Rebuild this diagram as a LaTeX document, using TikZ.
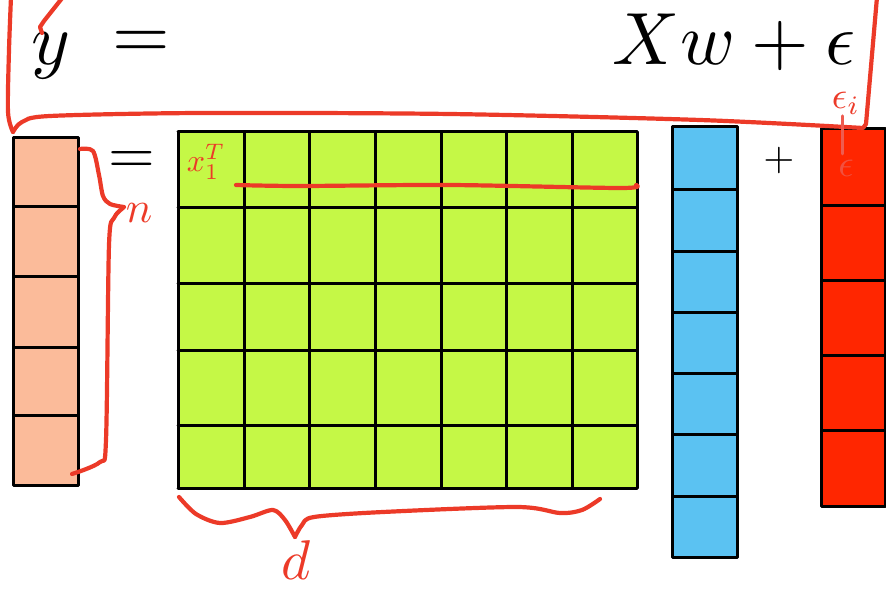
\documentclass[tikz,border=0pt]{standalone}
\usepackage{amsmath,amssymb}
\usepackage{xcolor}
\definecolor{ycol}{RGB}{251,187,154}
\definecolor{xcol}{RGB}{197,248,70}
\definecolor{wcol}{RGB}{91,194,242}
\definecolor{ecol}{RGB}{255,38,0}
\definecolor{pen}{RGB}{236,58,40}
\definecolor{fadepen}{RGB}{238,92,80}
\tikzset{
  every picture/.style={line join=round, line cap=round},
  cell/.style={draw=black, line width=3pt},
  ink/.style={draw=pen, line width=4.2pt},
  bigmath/.style={inner sep=0pt, scale=7.4},
  handnote/.style={inner sep=0pt, text=pen},
}
\begin{document}
\begin{tikzpicture}[x=1pt,y=-1pt]
\useasboundingbox (0,0) rectangle (886,591);
% columns and matrix
\foreach \t/\b in {138/206,206/276,276/347,347/415,415/485}
  \draw[cell,fill=ycol] (13,\t) rectangle (78,\b);
\fill[xcol] (178,132) rectangle (637,488);
\foreach \x in {178,244,309,375,441,506,572,637}
  \draw[cell] (\x,132)--(\x,488);
\foreach \y in {132,207,283,350,425,488}
  \draw[cell] (178,\y)--(637,\y);
\foreach \t/\b in {127/189,189/251,251/312,312/373,373/434,434/496,496/557}
  \draw[cell,fill=wcol] (672,\t) rectangle (737,\b);
\foreach \t/\b in {129/205,205/280,280/355,355/430,430/506}
  \draw[cell,fill=ecol] (821,\t) rectangle (885,\b);
% equation
\node[bigmath,anchor=base west] (ylhs) at (30,65) {$y$};
\node[bigmath] (eqtop) at (141,45) {$=$};
\node[bigmath,anchor=base east] (rhs) at (857,65) {$Xw+\epsilon$};
\node[inner sep=0pt,scale=6] (eqlow) at (132,162) {$=$};
\node[inner sep=0pt,scale=4] (plus) at (779,160) {$+$};
% handwritten notes
\node[handnote,scale=3.2] (xrow) at (206,162) {$x_1^T$};
\node[handnote,scale=4.4] (nlab) at (139,213) {$n$};
\node[handnote,scale=5.6] (dlab) at (296,560) {$d$};
\node[handnote,scale=3.8] (elab) at (846,103) {$\epsilon_i$};
\node[inner sep=0pt,text=fadepen,opacity=0.8,scale=3.8] (efade) at (846,168) {$\epsilon$};
\draw[ink] plot[smooth,tension=0.5] coordinates {(11,-3) (9,50) (8,112) (13,132)};
\draw[ink] plot[smooth,tension=0.5] coordinates {(13,132) (22,122) (50,116) (200,113) (450,114) (700,120) (863,128)}
  -- (866,124) -- (877,-3);
\draw[ink] (63,-3) -- (44,21) -- (40,27) -- (42,33);
\draw[ink] plot[smooth,tension=0.5] coordinates {(80,149) (93,151) (99,175) (103,196) (110,204) (124,207)};
\draw[ink] plot[smooth,tension=0.5] coordinates {(123,208) (114,218) (109,245) (106,440) (100,462) (72,474)};
\draw[ink] plot[smooth,tension=0.5] coordinates {(236,185) (300,186) (450,185) (620,188) (636,185)};
\draw[ink] plot[smooth,tension=0.5] coordinates {(179,497) (196,514) (220,523) (250,517) (273,510) (285,520) (295,537)};
\draw[ink] plot[smooth,tension=0.5] coordinates {(295,537) (302,525) (314,517) (383,512) (517,507) (560,513) (582,510) (600,499)};
\draw[draw=fadepen,line width=3pt] (elab.south) ++(-4,1) -- ++(0,38);
\end{tikzpicture}
\end{document}
